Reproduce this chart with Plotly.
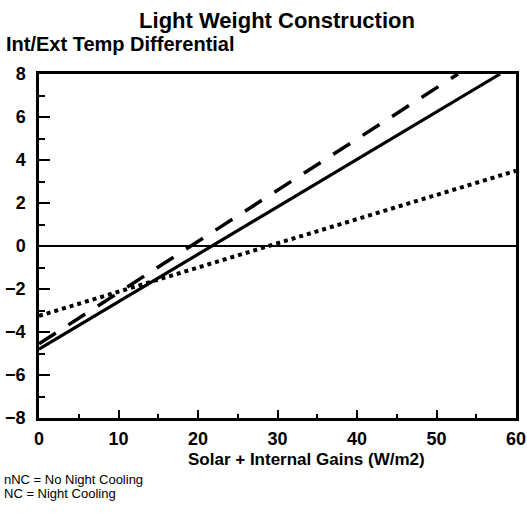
import plotly.graph_objects as go

# Data
solid_x = [0, 58]
solid_y = [-4.8, 8]
dashed_x = [0, 52.7]
dashed_y = [-4.55, 8]
dotted_x = [0, 60]
dotted_y = [-3.25, 3.5]
x_ticks = [0, 10, 20, 30, 40, 50, 60]
y_ticks = [-8, -6, -4, -2, 0, 2, 4, 6, 8]

FONT = "Liberation Sans"

fig = go.Figure()
fig.add_trace(go.Scatter(x=solid_x, y=solid_y, mode="lines",
                         line=dict(color="black", width=3.2, dash="solid"),
                         showlegend=False))
fig.add_trace(go.Scatter(x=dashed_x, y=dashed_y, mode="lines",
                         line=dict(color="black", width=3.5, dash="20px,15px"),
                         showlegend=False))
fig.add_trace(go.Scatter(x=dotted_x, y=dotted_y, mode="lines",
                         line=dict(color="black", width=4, dash="4px,4px"),
                         showlegend=False))

axis_common = dict(showgrid=False, showline=True, linecolor="black", linewidth=2.5,
                   mirror=True, ticks="inside", tickcolor="black", tickwidth=2,
                   tickfont=dict(family=FONT, size=18, color="black", weight="bold"),
                   zeroline=False, automargin=False)

fig.update_xaxes(range=[0, 60], tickvals=x_ticks, ticklen=8, ticklabelstandoff=3,
                 minor=dict(dtick=5, ticks="inside", ticklen=4, tickcolor="black", tickwidth=2),
                 **axis_common)
fig.update_yaxes(range=[-8, 8], tickvals=y_ticks, ticklen=11, ticklabelstandoff=7,
                 minor=dict(dtick=1, ticks="inside", ticklen=6, tickcolor="black", tickwidth=2),
                 **axis_common)

fig.add_shape(type="line", xref="x", yref="y", x0=0, x1=60, y0=0, y1=0,
              line=dict(color="black", width=2))

fig.update_layout(
    width=527, height=525,
    margin=dict(l=39, r=11, t=74, b=107),
    paper_bgcolor="white", plot_bgcolor="white",
    title=dict(text="<b>Light Weight Construction</b>", x=277/527, xanchor="center",
               y=1 - 20/525, yanchor="middle",
               font=dict(family=FONT, size=22, color="black")),
)

fig.add_annotation(text="<b>Int/Ext Temp Differential</b>", xref="paper", yref="paper",
                   x=(4-39)/477, xanchor="left", y=1 + (74-44)/344, yanchor="middle",
                   showarrow=False, font=dict(family=FONT, size=20, color="black"))
fig.add_annotation(text="<b>Solar + Internal Gains (W/m2)</b>", xref="paper", yref="paper",
                   x=(306-39)/477, xanchor="center", y=-(459-418)/344, yanchor="middle",
                   showarrow=False, font=dict(family=FONT, size=17, color="black"))
fig.add_annotation(text="nNC = No Night Cooling", xref="paper", yref="paper",
                   x=-37/477, xanchor="left", y=-(479-418)/344, yanchor="middle",
                   showarrow=False, font=dict(family=FONT, size=13, color="black"))
fig.add_annotation(text="NC = Night Cooling", xref="paper", yref="paper",
                   x=-37/477, xanchor="left", y=-(493-418)/344, yanchor="middle",
                   showarrow=False, font=dict(family=FONT, size=13, color="black"))

fig.write_html("out.html")
